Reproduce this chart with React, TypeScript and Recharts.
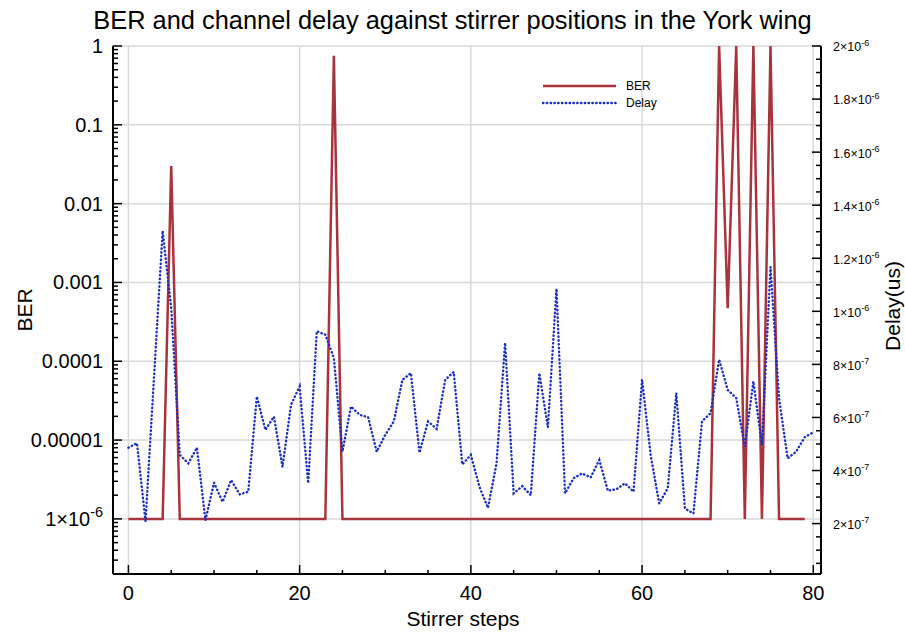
import React from "react";
import { LineChart, Line, XAxis, YAxis, CartesianGrid, Label } from "recharts";

const FONT = "'Liberation Sans', Arial, Helvetica, sans-serif";
const RED = "#a9333b";
const BLUE = "#1b2fc2";

const F = 1e-6; // BER floor

// BER per stirrer step (0..79)
const ber = [
  F, F, F, F, F, 0.03, F, F, F, F,
  F, F, F, F, F, F, F, F, F, F,
  F, F, F, F, 0.75, F, F, F, F, F,
  F, F, F, F, F, F, F, F, F, F,
  F, F, F, F, F, F, F, F, F, F,
  F, F, F, F, F, F, F, F, F, F,
  F, F, F, F, F, F, F, F, F, 1,
  4.7e-4, 1, F, 1, F, 1, F, F, F, F,
];

// channel delay per stirrer step (0..80), in units of 1e-7
const delay = [
  4.86, 5.03, 2.09, 7.57, 13.03, 10.13, 4.59, 4.27, 4.86, 2.13,
  3.54, 2.82, 3.64, 3.1, 3.2, 6.79, 5.53, 6.03, 4.14, 6.48,
  7.17, 3.52, 9.25, 9.12, 8.24, 4.71, 6.41, 6.1, 6.01, 4.71,
  5.34, 5.85, 7.42, 7.67, 4.67, 5.85, 5.57, 7.42, 7.71, 4.23,
  4.59, 3.39, 2.59, 4.27, 8.81, 3.14, 3.41, 3.07, 7.67, 5.63,
  10.85, 3.14, 3.71, 3.89, 3.74, 4.4, 3.24, 3.29, 3.52, 3.2,
  7.42, 4.59, 2.76, 3.33, 6.92, 2.57, 2.38, 5.85, 6.16, 8.18,
  7.04, 6.73, 4.9, 7.36, 4.96, 11.67, 6.73, 4.46, 4.71, 5.26,
  5.44,
];

const xTicks = [0, 5, 10, 15, 20, 25, 30, 35, 40, 45, 50, 55, 60, 65, 70, 75, 80];
const xLabels = [0, 20, 40, 60, 80];

const berMajorTicks = [1, 0.1, 0.01, 0.001, 0.0001, 0.00001, 1e-6];
const berMajorLabels = ["1", "0.1", "0.01", "0.001", "0.0001", "0.00001", "1×10|-6"];

const delayMajorTicks = [2e-6, 1.8e-6, 1.6e-6, 1.4e-6, 1.2e-6, 1e-6, 8e-7, 6e-7, 4e-7, 2e-7];
const delayMajorLabels = [
  "2×10|-6", "1.8×10|-6", "1.6×10|-6", "1.4×10|-6", "1.2×10|-6",
  "1×10|-6", "8×10|-7", "6×10|-7", "4×10|-7", "2×10|-7",
];

// minor tick positions
const berTicks: number[] = [];
for (let e = -7; e <= 0; e++) {
  for (let k = 1; k <= 9; k++) {
    const v = Number((k * Math.pow(10, e)).toPrecision(3));
    if (v >= 2e-7 && v <= 1) berTicks.push(v);
  }
}
const delayTicks: number[] = [];
for (let i = 1; i <= 40; i++) delayTicks.push(Number((i * 5e-8).toPrecision(3)));

const data = delay.map((d, i) => ({
  step: i,
  ber: i < ber.length ? ber[i] : undefined,
  delay: d * 1e-7,
}));

const findMajor = (list: number[], v: number) =>
  list.findIndex((t) => Math.abs(t - v) / t < 1e-6);

const SupText = ({ x, y, label, size, anchor }: any) => {
  const [base, sup] = label.split("|");
  return (
    <text x={x} y={y} dy="0.35em" textAnchor={anchor} fontFamily={FONT} fontSize={size} fill="#000">
      {base}
      {sup && (
        <tspan dy={-size * 0.45} fontSize={size * 0.72}>
          {sup}
        </tspan>
      )}
    </text>
  );
};

const BerTick = (props: any) => {
  const { x, y, payload } = props;
  const idx = findMajor(berMajorTicks, payload.value);
  const ax = x + 6;
  const len = idx >= 0 ? 9 : 5;
  return (
    <g>
      <line x1={ax} x2={ax + len} y1={y} y2={y} stroke="#000" strokeWidth={1.5} />
      {idx >= 0 && <SupText x={ax - 10} y={y} label={berMajorLabels[idx]} size={20} anchor="end" />}
    </g>
  );
};

const DelayTick = (props: any) => {
  const { x, y, payload } = props;
  const idx = findMajor(delayMajorTicks, payload.value);
  const ax = x - 12;
  const len = idx >= 0 ? 9 : 5;
  return (
    <g>
      <line x1={ax} x2={ax - len} y1={y} y2={y} stroke="#000" strokeWidth={1.5} />
      {idx >= 0 && <SupText x={ax + 12} y={y + 1} label={delayMajorLabels[idx]} size={12.5} anchor="start" />}
    </g>
  );
};

const StepTick = (props: any) => {
  const { x, y, payload } = props;
  const major = xLabels.includes(payload.value);
  const ay = y - 10;
  return (
    <g>
      <line x1={x} x2={x} y1={ay} y2={ay - (major ? 9 : 4)} stroke="#000" strokeWidth={1.5} />
      {major && (
        <text x={x} y={ay + 10} dy="0.8em" textAnchor="middle" fontFamily={FONT} fontSize={20} fill="#000">
          {payload.value}
        </text>
      )}
    </g>
  );
};

const DOTS = "0.4 3.4";

const legendItems = [
  { name: "BER", color: RED, dash: undefined, w: 2.5, cap: "butt" },
  { name: "Delay", color: BLUE, dash: DOTS, w: 2.4, cap: "round" },
];

const LegendBox = () => (
  <div style={{ position: "absolute", left: 540, top: 77, fontFamily: FONT, fontSize: 12, color: "#000" }}>
    {legendItems.map((it) => (
      <div key={it.name} style={{ display: "flex", alignItems: "center", height: 17 }}>
        <svg width={86} height={10}>
          <line
            x1={3}
            x2={76}
            y1={5}
            y2={5}
            stroke={it.color}
            strokeWidth={it.w}
            strokeDasharray={it.dash}
            strokeLinecap={it.cap as any}
          />
        </svg>
        <span>{it.name}</span>
      </div>
    ))}
  </div>
);

export default function App() {
  return (
    <div style={{ position: "absolute", left: 0, top: 0, width: 905, height: 635, background: "#fff" }}>
      <div
        style={{
          position: "absolute",
          left: 0,
          top: 5,
          width: 905,
          textAlign: "center",
          fontFamily: FONT,
          fontSize: 25.4,
          lineHeight: "30px",
          color: "#000",
        }}
      >
        BER and channel delay against stirrer positions in the York wing
      </div>
      <LineChart width={905} height={635} data={data} margin={{ top: 46, right: 0, bottom: 0, left: 0 }}>
        <CartesianGrid
          xAxisId="x"
          yAxisId="ber"
          stroke="#d9d9d9"
          strokeWidth={1.5}
          horizontalValues={berMajorTicks}
          verticalValues={xLabels}
        />
        <XAxis
          xAxisId="x"
          dataKey="step"
          type="number"
          domain={[-1.8, 80.9]}
          ticks={xTicks}
          interval={0}
          height={61}
          tickSize={0}
          tickMargin={10}
          tickLine={false}
          axisLine={{ stroke: "#000", strokeWidth: 2 }}
          tick={<StepTick />}
        >
          <Label
            content={({ viewBox }: any) => (
              <text
                x={viewBox.x + viewBox.width / 2 - 4}
                y={viewBox.y + 45}
                textAnchor="middle"
                dy="0.35em"
                fontFamily={FONT}
                fontSize={21}
                fill="#000"
              >
                Stirrer steps
              </text>
            )}
          />
        </XAxis>
        <XAxis
          xAxisId="top"
          orientation="top"
          dataKey="step"
          type="number"
          domain={[-1.8, 80.9]}
          height={0}
          tick={false}
          tickLine={false}
          axisLine={{ stroke: "#000", strokeWidth: 2 }}
        />
        <YAxis
          yAxisId="ber"
          scale="log"
          type="number"
          domain={[2e-7, 1]}
          allowDataOverflow
          ticks={berTicks}
          interval={0}
          width={113}
          tickSize={0}
          tickMargin={6}
          tickLine={false}
          axisLine={{ stroke: "#000", strokeWidth: 2 }}
          tick={<BerTick />}
        >
          <Label
            content={({ viewBox }: any) => (
              <text
                x={25}
                y={viewBox.y + viewBox.height / 2}
                transform={`rotate(-90 25 ${viewBox.y + viewBox.height / 2})`}
                textAnchor="middle"
                dy="0.35em"
                fontFamily={FONT}
                fontSize={21}
                fill="#000"
              >
                BER
              </text>
            )}
          />
        </YAxis>
        <YAxis
          yAxisId="delay"
          orientation="right"
          type="number"
          domain={[1e-8, 2e-6]}
          allowDataOverflow
          ticks={delayTicks}
          interval={0}
          width={84}
          tickSize={0}
          tickMargin={12}
          tickLine={false}
          axisLine={{ stroke: "#000", strokeWidth: 2 }}
          tick={<DelayTick />}
        >
          <Label
            content={({ viewBox }: any) => (
              <text
                x={893}
                y={viewBox.y + viewBox.height / 2 - 4}
                transform={`rotate(-90 893 ${viewBox.y + viewBox.height / 2 - 4})`}
                textAnchor="middle"
                dy="0.35em"
                fontFamily={FONT}
                fontSize={21}
                fill="#000"
              >
                Delay(us)
              </text>
            )}
          />
        </YAxis>
        <Line
          xAxisId="x"
          yAxisId="ber"
          dataKey="ber"
          type="linear"
          stroke={RED}
          strokeWidth={2.5}
          dot={false}
          isAnimationActive={false}
        />
        <Line
          xAxisId="x"
          yAxisId="delay"
          dataKey="delay"
          type="linear"
          stroke={BLUE}
          strokeWidth={2.4}
          strokeDasharray={DOTS}
          strokeLinecap="round"
          dot={false}
          isAnimationActive={false}
        />
      </LineChart>
      <LegendBox />
    </div>
  );
}
